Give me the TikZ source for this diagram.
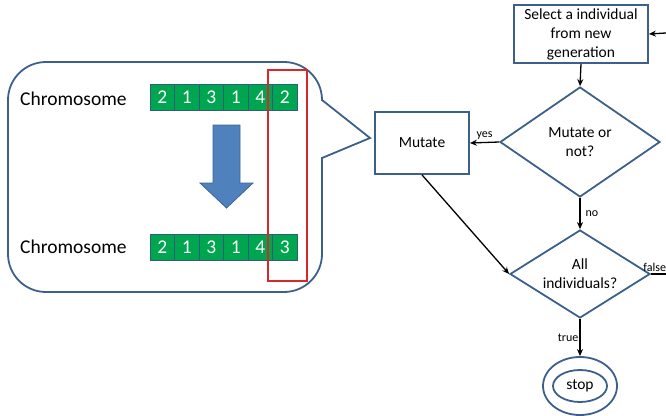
\documentclass[tikz,border=0pt]{standalone}
\usepackage{fontspec}
\setmainfont{Carlito}
\usetikzlibrary{shapes.geometric,arrows.meta}
\definecolor{frame}{HTML}{3C5F8C}
\definecolor{genefill}{HTML}{00A550}
\definecolor{genebd}{HTML}{2F5E7A}
\definecolor{arrowblue}{HTML}{4F81BD}
\definecolor{arrowbd}{HTML}{3A6596}
\definecolor{markred}{HTML}{D82828}
\begin{document}
\begin{tikzpicture}[x=1pt,y=-1pt,
  box/.style={draw=frame,line width=1.8pt,fill=white,align=center,inner sep=0,font=\fontsize{15.5}{19}\selectfont},
  decision/.style={diamond,draw=frame,line width=1.8pt,align=center,inner sep=0,font=\fontsize{15.5}{19}\selectfont},
  flow/.style={-{Stealth[length=7pt,width=6pt]},line width=1.3pt,black},
  plain/.style={line width=1.3pt,black},
  lbl/.style={font=\fontsize{12}{14}\selectfont,inner sep=2pt},
  gene/.style={draw=genebd,fill=genefill,line width=0.8pt,minimum width=24.5pt,minimum height=26pt,inner sep=0,text=white,font=\fontsize{19.5}{22}\selectfont},
  chromo/.style={font=\fontsize{19.5}{22}\selectfont,anchor=west,inner sep=0}]

\useasboundingbox (0,0) rectangle (666,415);

% callout bubble with pointer to the Mutate step
\draw[frame,line width=1.8pt,rounded corners=38pt] (8,62) rectangle (322,292);
\fill[white] (319,101) rectangle (325,157);
\draw[frame,line width=1.8pt,line join=miter] (322,100) -- (370,138) -- (322,158);

% chromosome before mutation
\node[chromo] (c1) at (20,99) {Chromosome};
\foreach \v [count=\i] in {2,1,3,1,4,2}
  \node[gene] (a\i) at ({162.25+24.5*(\i-1)},97) {\v};

% chromosome after mutation
\node[chromo] (c2) at (20,247) {Chromosome};
\foreach \v [count=\i] in {2,1,3,1,4,3}
  \node[gene] (b\i) at ({162.25+24.5*(\i-1)},247) {\v};

% block arrow
\draw[fill=arrowblue,draw=arrowbd,line width=0.8pt]
  (213,125) -- (240,125) -- (240,183) -- (253,183) -- (226.5,208) -- (200,183) -- (213,183) -- cycle;

% highlight of the mutated gene
\draw[markred,line width=1.8pt] (268,70) rectangle (307,281);

% flowchart
\node[box,minimum width=134pt,minimum height=58pt] (select) at (581,34) {Select a individual\\from new\\generation};
\node[decision,aspect=1.45,minimum width=160pt,minimum height=110pt] (mut) at (580,142) {Mutate or\\not?};
\node[box,minimum width=94pt,minimum height=62pt] (mutbox) at (422,143) {Mutate};
\node[decision,aspect=1.6,minimum width=140pt,minimum height=88pt] (all) at (580,274) {All\\individuals?};
\node[ellipse,draw=frame,line width=1.8pt,minimum width=74pt,minimum height=58pt,inner sep=0,font=\fontsize{15.5}{19}\selectfont] (stop) at (580,386) {stop};
\draw[frame,line width=1.8pt] (stop.center) ellipse[x radius=27pt,y radius=16pt];

\coordinate (loopin) at (666,33);
\coordinate (loopout) at (666,274);

\draw[flow] (loopin) -- (select.east);
\draw[flow] (select.south) -- (mut.north);
\draw[flow] (mut.west) -- node[lbl,above] {yes} (mutbox.east);
\draw[flow] (mut.south) -- node[lbl,right,xshift=3pt] {no} (all.north);
\draw[flow] (mutbox.south) -- (all.west);
\draw[plain] (all.east) -- node[lbl,above,pos=0.25] {false} (loopout);
\draw[flow] (all.south) -- node[lbl,left,inner sep=1pt] {true} (stop.north);
\end{tikzpicture}
\end{document}
